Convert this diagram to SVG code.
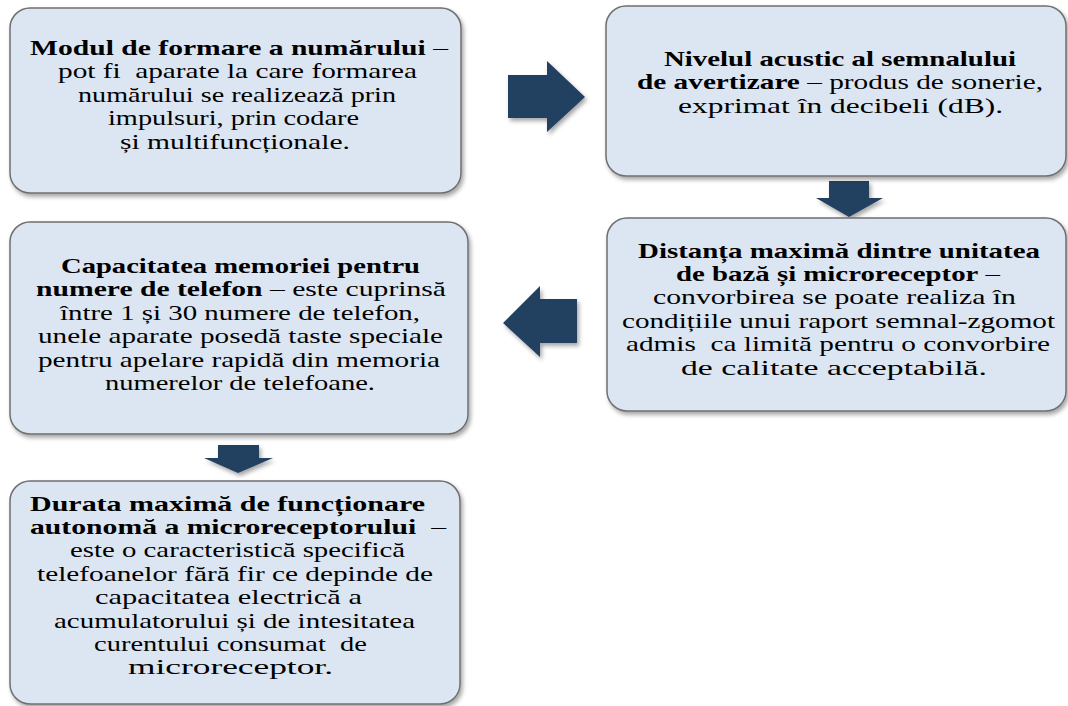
<svg xmlns="http://www.w3.org/2000/svg" width="1068" height="706" viewBox="0 0 1068 706">
  <defs>
    <filter id="shadow" x="-10%" y="-10%" width="120%" height="125%">
      <feDropShadow dx="2" dy="3" stdDeviation="2" flood-color="#000" flood-opacity="0.35"/>
    </filter>
    <style>
      .box { fill: #dce6f2; stroke: #6f6f6f; stroke-width: 1.5; filter: url(#shadow); }
      .arrow { fill: #243f60; filter: url(#shadow); }
      text { font-family: "Liberation Serif", "Times New Roman", serif; font-size: 21px; fill: #000; white-space: pre; }
      .b { font-weight: bold; }
    </style>
  </defs>
  <rect width="1068" height="706" fill="#fff"/>

  <!-- flow arrows between the blocks -->
  <g id="connectors">
    <polygon class="arrow" points="508,75 547,75 547,61 585,97 547,132 547,118 508,118"/>
    <polygon class="arrow" points="829,181 869,181 869,198 883,198 849,217 816,198 829,198"/>
    <polygon class="arrow" points="577,299 540,299 540,286 503,323 540,357 540,343 577,343"/>
    <polygon class="arrow" points="218,445 259,445 259,458 273,458 238,473 204,458 218,458"/>
  </g>

  <g id="node-formare">
    <rect class="box" x="10" y="8" width="451" height="185" rx="20"/>
    <text>
      <tspan x="30" y="55" textLength="418" lengthAdjust="spacingAndGlyphs"><tspan class="b">Modul de formare a numărului</tspan> –</tspan>
      <tspan x="58" y="78.4" textLength="359" lengthAdjust="spacingAndGlyphs">pot fi  aparate la care formarea</tspan>
      <tspan x="78" y="101.8" textLength="318" lengthAdjust="spacingAndGlyphs">numărului se realizează prin</tspan>
      <tspan x="108" y="125.2" textLength="251" lengthAdjust="spacingAndGlyphs">impulsuri, prin codare</tspan>
      <tspan x="120" y="148.6" textLength="230" lengthAdjust="spacingAndGlyphs">și multifuncționale.</tspan>
    </text>
  </g>

  <g id="node-nivel">
    <rect class="box" x="606" y="6" width="460" height="170" rx="20"/>
    <text>
      <tspan x="664" y="66" textLength="352" lengthAdjust="spacingAndGlyphs" class="b">Nivelul acustic al semnalului</tspan>
      <tspan x="637" y="89.4" textLength="406" lengthAdjust="spacingAndGlyphs"><tspan class="b">de avertizare</tspan> – produs de sonerie,</tspan>
      <tspan x="678" y="112.8" textLength="325" lengthAdjust="spacingAndGlyphs">exprimat în decibeli (dB).</tspan>
    </text>
  </g>

  <g id="node-distanta">
    <rect class="box" x="607" y="218" width="459" height="193" rx="20"/>
    <text>
      <tspan x="638" y="257.5" textLength="402" lengthAdjust="spacingAndGlyphs" class="b">Distanța maximă dintre unitatea</tspan>
      <tspan x="676" y="280.9" textLength="324" lengthAdjust="spacingAndGlyphs"><tspan class="b">de bază și microreceptor</tspan> –</tspan>
      <tspan x="653" y="304.3" textLength="363" lengthAdjust="spacingAndGlyphs">convorbirea se poate realiza în</tspan>
      <tspan x="622" y="327.7" textLength="433" lengthAdjust="spacingAndGlyphs">condițiile unui raport semnal-zgomot</tspan>
      <tspan x="626" y="351.1" textLength="424" lengthAdjust="spacingAndGlyphs">admis  ca limită pentru o convorbire</tspan>
      <tspan x="681" y="374.5" textLength="306" lengthAdjust="spacingAndGlyphs">de calitate acceptabilă.</tspan>
    </text>
  </g>

  <g id="node-capacitate">
    <rect class="box" x="10" y="222" width="458" height="212" rx="20"/>
    <text>
      <tspan x="61" y="273" textLength="359" lengthAdjust="spacingAndGlyphs" class="b">Capacitatea memoriei pentru</tspan>
      <tspan x="36" y="296.4" textLength="410" lengthAdjust="spacingAndGlyphs"><tspan class="b">numere de telefon</tspan> – este cuprinsă</tspan>
      <tspan x="60" y="319.8" textLength="360" lengthAdjust="spacingAndGlyphs">între 1 și 30 numere de telefon,</tspan>
      <tspan x="38" y="343.2" textLength="405" lengthAdjust="spacingAndGlyphs">unele aparate posedă taste speciale</tspan>
      <tspan x="38" y="366.6" textLength="402" lengthAdjust="spacingAndGlyphs">pentru apelare rapidă din memoria</tspan>
      <tspan x="105" y="390" textLength="270" lengthAdjust="spacingAndGlyphs">numerelor de telefoane.</tspan>
    </text>
  </g>

  <g id="node-durata">
    <rect class="box" x="10" y="481" width="450" height="223" rx="20"/>
    <text>
      <tspan x="30" y="510.5" textLength="395" lengthAdjust="spacingAndGlyphs" class="b">Durata maximă de funcționare</tspan>
      <tspan x="30" y="533.9" textLength="416" lengthAdjust="spacingAndGlyphs"><tspan class="b">autonomă a microreceptorului</tspan>  –</tspan>
      <tspan x="70" y="557.3" textLength="335" lengthAdjust="spacingAndGlyphs">este o caracteristică specifică</tspan>
      <tspan x="37" y="580.7" textLength="396" lengthAdjust="spacingAndGlyphs">telefoanelor fără fir ce depinde de</tspan>
      <tspan x="95" y="604.1" textLength="267" lengthAdjust="spacingAndGlyphs">capacitatea electrică a</tspan>
      <tspan x="54" y="627.5" textLength="361" lengthAdjust="spacingAndGlyphs">acumulatorului și de intesitatea</tspan>
      <tspan x="94" y="650.9" textLength="273" lengthAdjust="spacingAndGlyphs">curentului consumat  de</tspan>
      <tspan x="128" y="674.3" textLength="205" lengthAdjust="spacingAndGlyphs">microreceptor.</tspan>
    </text>
  </g>
</svg>
